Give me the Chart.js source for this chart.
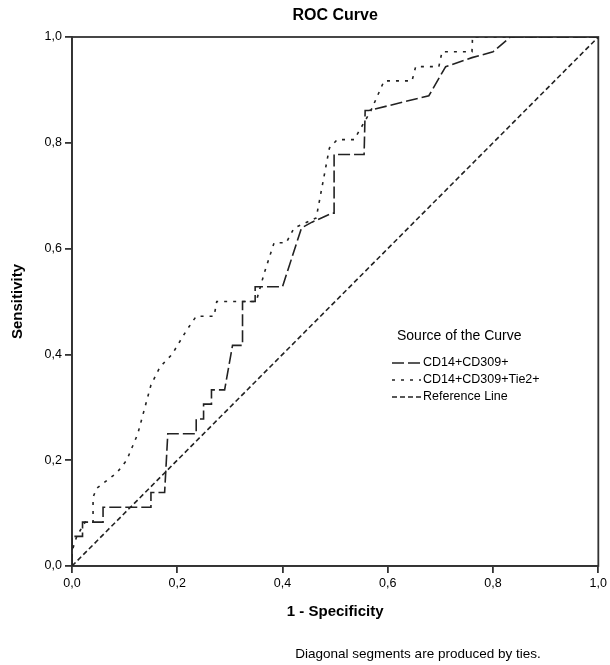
<!DOCTYPE html>
<html>
<head>
<meta charset="utf-8">
<script src="https://cdn.jsdelivr.net/npm/chart.js@4.4.0/dist/chart.umd.min.js"></script>
<style>
html, body { margin: 0; padding: 0; background: #fff; }
</style>
</head>
<body>
<canvas id="chart" width="610" height="665"></canvas>
<script>
// chart data
const chartTitle = 'ROC Curve';
const xTitle = '1 - Specificity';
const yTitle = 'Sensitivity';
const legendTitle = 'Source of the Curve';
const footnote = 'Diagonal segments are produced by ties.';
const seriesNames = ['CD14+CD309+', 'CD14+CD309+Tie2+', 'Reference Line'];
const tickValues = [0, 0.2, 0.4, 0.6, 0.8, 1.0];

const fpr1 = [0, 0, 0.02, 0.02, 0.059, 0.059, 0.15, 0.15, 0.176, 0.182, 0.236, 0.236, 0.25, 0.25, 0.265, 0.265, 0.29, 0.305, 0.324, 0.324, 0.348, 0.348, 0.40, 0.436, 0.456, 0.494, 0.498, 0.498, 0.555, 0.557, 0.564, 0.678, 0.71, 0.76, 0.80, 0.833, 1];
const tpr1 = [0, 0.056, 0.056, 0.083, 0.083, 0.111, 0.111, 0.139, 0.139, 0.25, 0.25, 0.278, 0.278, 0.306, 0.306, 0.333, 0.333, 0.417, 0.417, 0.5, 0.5, 0.528, 0.528, 0.639, 0.65, 0.667, 0.667, 0.778, 0.778, 0.861, 0.861, 0.889, 0.944, 0.961, 0.972, 1, 1];

const fpr2 = [0, 0, 0.009, 0.025, 0.04, 0.04, 0.047, 0.085, 0.104, 0.125, 0.15, 0.167, 0.19, 0.218, 0.236, 0.27, 0.275, 0.35, 0.366, 0.384, 0.407, 0.422, 0.464, 0.489, 0.504, 0.536, 0.56, 0.568, 0.593, 0.646, 0.653, 0.697, 0.703, 0.76, 0.761, 1];
const tpr2 = [0, 0.028, 0.056, 0.083, 0.083, 0.13, 0.147, 0.176, 0.2, 0.25, 0.342, 0.376, 0.40, 0.446, 0.472, 0.472, 0.5, 0.5, 0.556, 0.611, 0.611, 0.639, 0.658, 0.79, 0.806, 0.806, 0.847, 0.861, 0.917, 0.917, 0.944, 0.944, 0.972, 0.972, 1, 1];

const refX = [0, 1];
const refY = [0, 1];

const FONT = '"Liberation Sans", Arial, sans-serif';
const toPoints = (xs, ys) => xs.map((x, i) => ({ x: x, y: ys[i] }));
const fmt = v => v.toFixed(1).replace('.', ',');

// frame under the curves, then titles and the legend inside the plot
const decorations = {
    id: 'decorations',
    beforeDatasetsDraw(c) {
        const ctx = c.ctx;
        const a = c.chartArea;
        ctx.save();
        ctx.strokeStyle = '#333';
        ctx.lineWidth = 1.8;
        ctx.setLineDash([]);
        ctx.strokeRect(a.left, a.top, a.right - a.left, a.bottom - a.top);
        ctx.restore();
    },
    afterDraw(c) {
        const ctx = c.ctx;
        const a = c.chartArea;
        ctx.save();
        ctx.fillStyle = '#000';
        ctx.textAlign = 'center';
        ctx.textBaseline = 'middle';
        ctx.font = 'bold 16px ' + FONT;
        ctx.fillText(chartTitle, (a.left + a.right) / 2, 16);
        ctx.font = 'bold 15px ' + FONT;
        ctx.fillText(xTitle, (a.left + a.right) / 2, 612);
        ctx.save();
        ctx.translate(18, (a.top + a.bottom) / 2);
        ctx.rotate(-Math.PI / 2);
        ctx.fillText(yTitle, 0, 0);
        ctx.restore();
        ctx.font = '13.5px ' + FONT;
        ctx.fillText(footnote, 418, 654);

        // legend
        ctx.textAlign = 'left';
        ctx.font = '14px ' + FONT;
        ctx.fillText(legendTitle, 397, 336);
        ctx.font = '12.5px ' + FONT;
        const rows = [363, 380, 397];
        c.data.datasets.forEach((ds, i) => {
            const y = rows[i];
            ctx.strokeStyle = ds.borderColor;
            ctx.lineWidth = ds.borderWidth;
            ctx.setLineDash(ds.borderDash);
            ctx.beginPath();
            ctx.moveTo(392, y);
            ctx.lineTo(421, y);
            ctx.stroke();
            ctx.fillText(ds.label, 423, y);
        });
        ctx.restore();
    }
};

const chart = document.querySelector('#chart').getContext('2d');

new Chart(chart, {
    type: 'line',
    data: {
        datasets: [
            {
                label: seriesNames[0],
                data: toPoints(fpr1, tpr1),
                borderColor: '#222',
                borderWidth: 1.6,
                borderDash: [12, 4],
                pointRadius: 0,
                tension: 0
            },
            {
                label: seriesNames[1],
                data: toPoints(fpr2, tpr2),
                borderColor: '#222',
                borderWidth: 1.6,
                borderDash: [3, 6],
                pointRadius: 0,
                tension: 0
            },
            {
                label: seriesNames[2],
                data: toPoints(refX, refY),
                borderColor: '#222',
                borderWidth: 1.6,
                borderDash: [5, 3],
                pointRadius: 0,
                tension: 0
            }
        ]
    },
    options: {
        responsive: false,
        animation: false,
        devicePixelRatio: 1,
        layout: { padding: { left: 0, right: 10, top: 37, bottom: 0 } },
        plugins: {
            legend: { display: false },
            title: { display: false },
            tooltip: { enabled: false }
        },
        scales: {
            x: {
                type: 'linear',
                min: 0,
                max: 1,
                afterBuildTicks: s => { s.ticks = tickValues.map(v => ({ value: v })); },
                afterFit: s => { s.height = 99; },
                ticks: {
                    callback: v => fmt(v),
                    color: '#000',
                    font: { size: 12.5, family: FONT },
                    padding: 3,
                    maxRotation: 0
                },
                grid: {
                    drawOnChartArea: false,
                    drawTicks: true,
                    tickLength: 7,
                    color: '#333',
                    lineWidth: 1.8
                },
                border: { display: true, color: '#333', width: 1.8 }
            },
            y: {
                type: 'linear',
                min: 0,
                max: 1,
                afterBuildTicks: s => { s.ticks = tickValues.map(v => ({ value: v })); },
                afterFit: s => { s.width = 72; },
                ticks: {
                    callback: v => fmt(v),
                    color: '#000',
                    font: { size: 12.5, family: FONT },
                    padding: 3
                },
                grid: {
                    drawOnChartArea: false,
                    drawTicks: true,
                    tickLength: 7,
                    color: '#333',
                    lineWidth: 1.8
                },
                border: { display: true, color: '#333', width: 1.8 }
            }
        }
    },
    plugins: [decorations]
});
</script>
</body>
</html>
